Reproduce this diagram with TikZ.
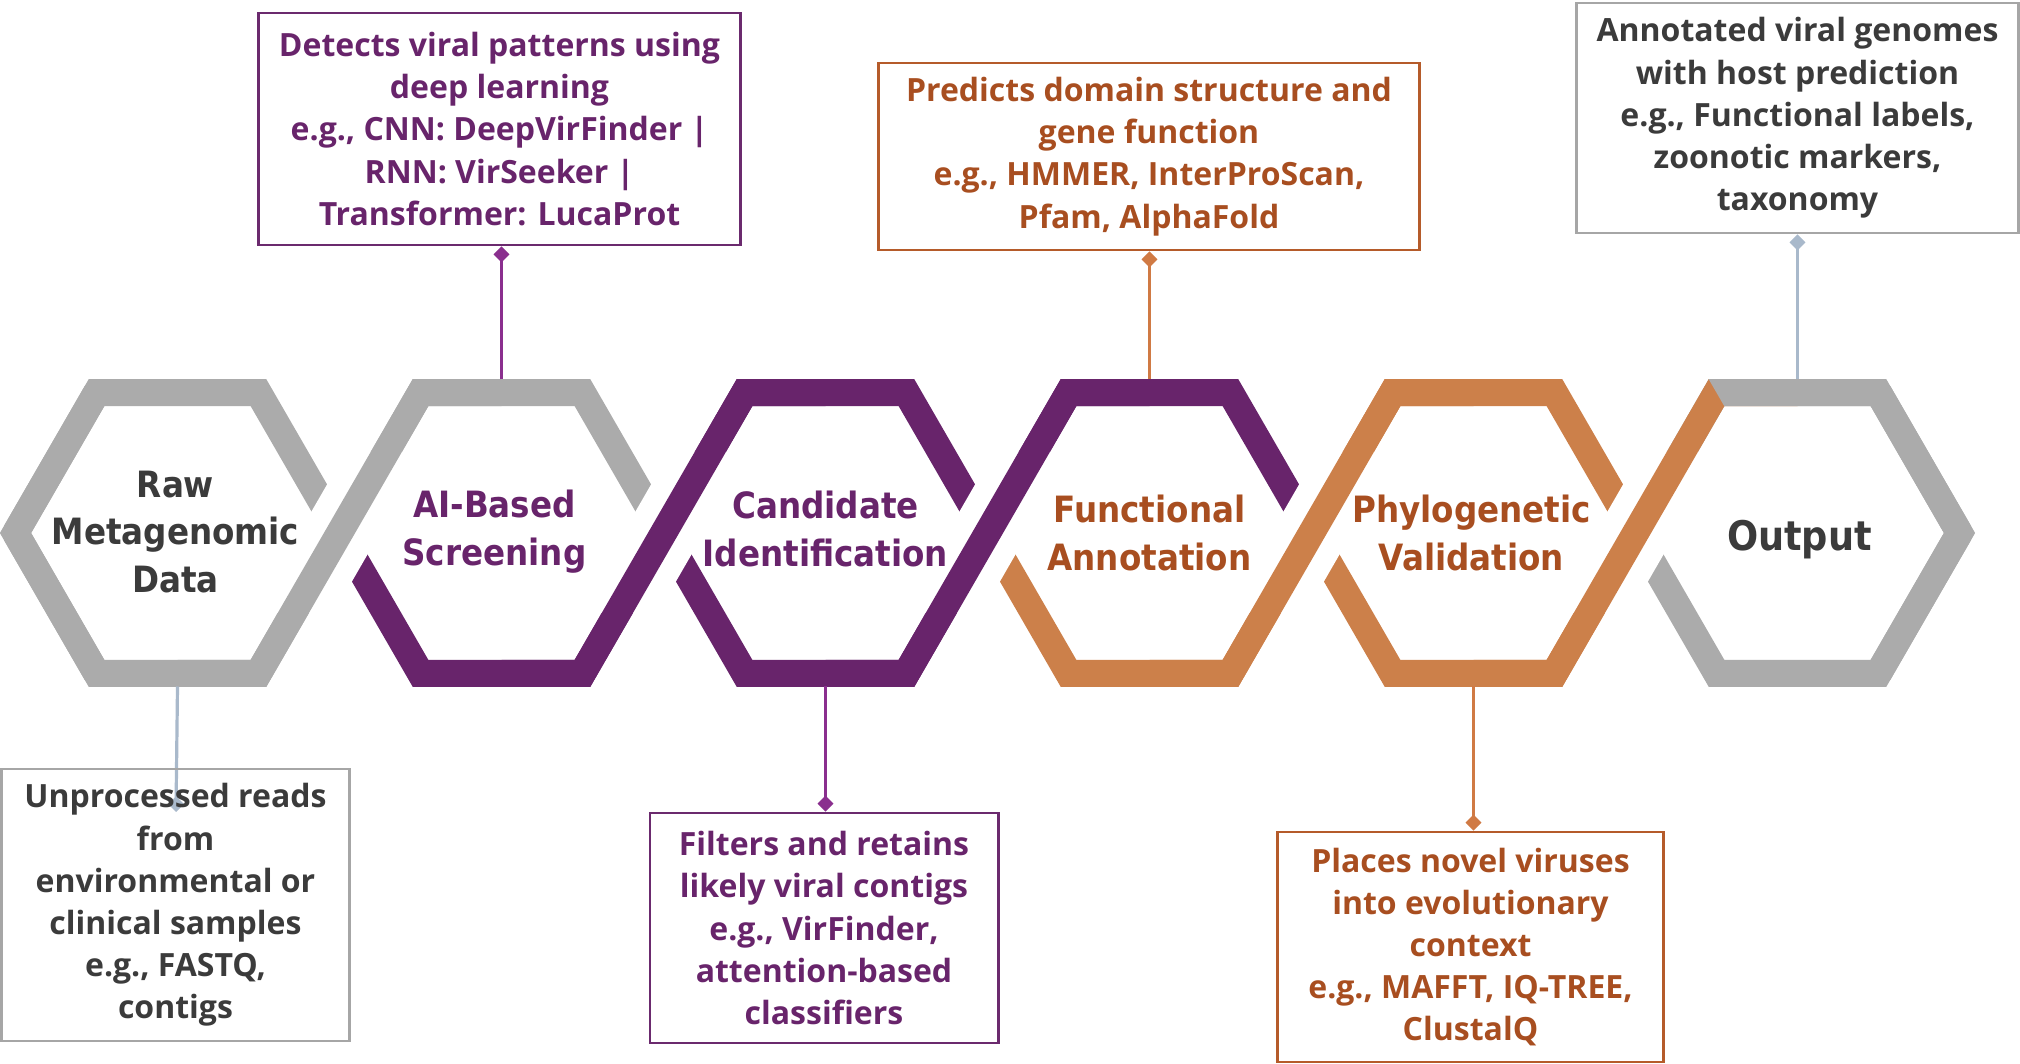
\documentclass[tikz,border=0pt]{standalone}
\usepackage{fontspec}
\setmainfont{Open Sans}
\newfontfamily\hexfont{DejaVu Sans Condensed}
\usetikzlibrary{arrows.meta,calc}

\definecolor{bandgray}{HTML}{ABABAB}
\definecolor{bandpurple}{HTML}{68246B}
\definecolor{bandorange}{HTML}{CC804A}
\definecolor{txtgray}{HTML}{3B3B3B}
\definecolor{txtpurple}{HTML}{68246B}
\definecolor{txtorange}{HTML}{A84E20}
\definecolor{linegray}{HTML}{A9B9CB}
\definecolor{linepurple}{HTML}{8A2F8E}
\definecolor{lineorange}{HTML}{D07A44}
\definecolor{boxgray}{HTML}{A6A6A6}
\definecolor{boxpurple}{HTML}{6B2A6E}
\definecolor{boxorange}{HTML}{B55B2A}

\begin{document}
\begin{tikzpicture}[
		x=0.01cm, y=-0.01cm,
		font=\bfseries,
		band/.style={line width=0.27cm, line join=miter},
		gap/.style={white, line width=0.70cm},
		hexlbl/.style={font=\hexfont\bfseries\fontsize{10.3}{13.6}\selectfont, align=center},
		infobox/.style={draw, line width=0.028cm, align=center, inner sep=0pt,
				font=\bfseries\fontsize{9.1}{12}\selectfont},
		con/.style={line width=0.032cm, -{Diamond[length=4.5pt,width=4.5pt]}},
	]
	\useasboundingbox (0,0) rectangle (2020,1064);

	\foreach \i/\cx in {1/177.5,2/501.5,3/825.5,4/1149.5,5/1473.5,6/1797.5} {
			\coordinate (h\i) at (\cx,533);
			\coordinate (n\i) at (\cx,379.5);
			\coordinate (s\i) at (\cx,686.5);
		}

	% hexagon halves
	\foreach \i/\up/\lo in {1/bandgray/bandgray,2/bandgray/bandpurple,3/bandpurple/bandpurple,
			4/bandpurple/bandorange,5/bandorange/bandorange,6/bandgray/bandgray} {
			\draw[band, draw=\lo, shift={(h\i)}] (162,0) -- (81,140.3) -- (-81,140.3) -- (-162,0);
			\draw[band, draw=\up, shift={(h\i)}] (-162,0) -- (-81,-140.3) -- (81,-140.3) -- (162,0);
		}
	\draw[band, draw=bandgray, shift={(h1)}] (-81,-140.3) -- (-162,0) -- (-81,140.3);
	\draw[band, draw=bandgray, shift={(h6)}] (81,-140.3) -- (162,0) -- (81,140.3);

	% crossing strips
	\foreach \i/\dc in {1/bandgray,2/bandpurple,3/bandpurple,4/bandorange,5/bandorange} {
			\coordinate (v\i) at ($(h\i)+(162,0)$);
			\begin{scope}
				\clip (v\i) ++(-200,-80) rectangle ++(400,160);
				\draw[gap, shift={(v\i)}] (-81,140.3) -- (81,-140.3);
			\end{scope}
			\draw[band, draw=\dc, shift={(v\i)}] (-162,140.3) -- (-81,140.3) -- (81,-140.3) -- (162,-140.3);
		}
	\begin{scope}
		\clip[shift={(h6)}] (0,0) -- (-162,-280.6) -- (162,-280.6) -- cycle;
		\draw[band, draw=bandgray, shift={(h6)}] (-162,0) -- (-81,-140.3) -- (81,-140.3) -- (162,0);
	\end{scope}

	\node[hexlbl, text=txtgray] (raw) at ($(h1)+(-2,-1)$) {Raw\\Metagenomic\\Data};
	\node[hexlbl, text=txtpurple] (ai) at ($(h2)+(-7,-1)$) {AI-Based\\Screening};
	\node[hexlbl, text=txtpurple] (cand) at ($(h3)+(0,-4)$) {Candidate\\Identification};
	\node[hexlbl, text=txtorange] (func) at (h4) {Functional\\Annotation};
	\node[hexlbl, text=txtorange] (phylo) at ($(h5)+(-2,0)$) {Phylogenetic\\Validation};
	\node[hexlbl, text=txtgray, font=\hexfont\bfseries\fontsize{11.6}{14}\selectfont] (out) at ($(h6)+(2,7)$) {Output};

	\coordinate (rawend) at (176,812);
	\draw[con, linegray] (s1) -- (rawend);

	\node[infobox, boxpurple, text=txtpurple, minimum width=4.81cm, minimum height=2.32cm] (det) at (499.5,129)
	{Detects viral patterns using\\deep learning\\e.g., CNN: DeepVirFinder |\\RNN: VirSeeker |\\Transformer: LucaProt};
	\node[infobox, boxorange, text=txtorange, minimum width=5.40cm, minimum height=1.87cm] (pred) at (1149,156.5)
	{Predicts domain structure and\\gene function\\e.g., HMMER, InterProScan,\\Pfam, AlphaFold};
	\node[infobox, boxgray, text=txtgray, minimum width=4.41cm, minimum height=2.30cm] (annot) at (1797.5,118)
	{Annotated viral genomes\\with host prediction\\e.g., Functional labels,\\zoonotic markers,\\taxonomy};
	\node[infobox, boxgray, text=txtgray, minimum width=3.47cm, minimum height=2.72cm] (unproc) at (175.5,905)
	{Unprocessed reads\\from\\environmental or\\clinical samples\\e.g., FASTQ,\\contigs};
	\node[infobox, boxpurple, text=txtpurple, minimum width=3.48cm, minimum height=2.30cm] (filt) at (824,928)
	{Filters and retains\\likely viral contigs\\e.g., VirFinder,\\attention-based\\classifiers};
	\node[infobox, boxorange, text=txtorange, minimum width=3.85cm, minimum height=2.30cm] (place) at (1470.5,947)
	{Places novel viruses\\into evolutionary\\context\\e.g., MAFFT, IQ-TREE,\\ClustalQ};

	\draw[con, linepurple] (n2) -- (n2 |- det.south);
	\draw[con, lineorange] (n4) -- (n4 |- pred.south);
	\draw[con, linegray] (n6) -- (n6 |- annot.south);
	\draw[con, linepurple] (s3) -- (s3 |- filt.north);
	\draw[con, lineorange] (s5) -- (s5 |- place.north);
\end{tikzpicture}
\end{document}
